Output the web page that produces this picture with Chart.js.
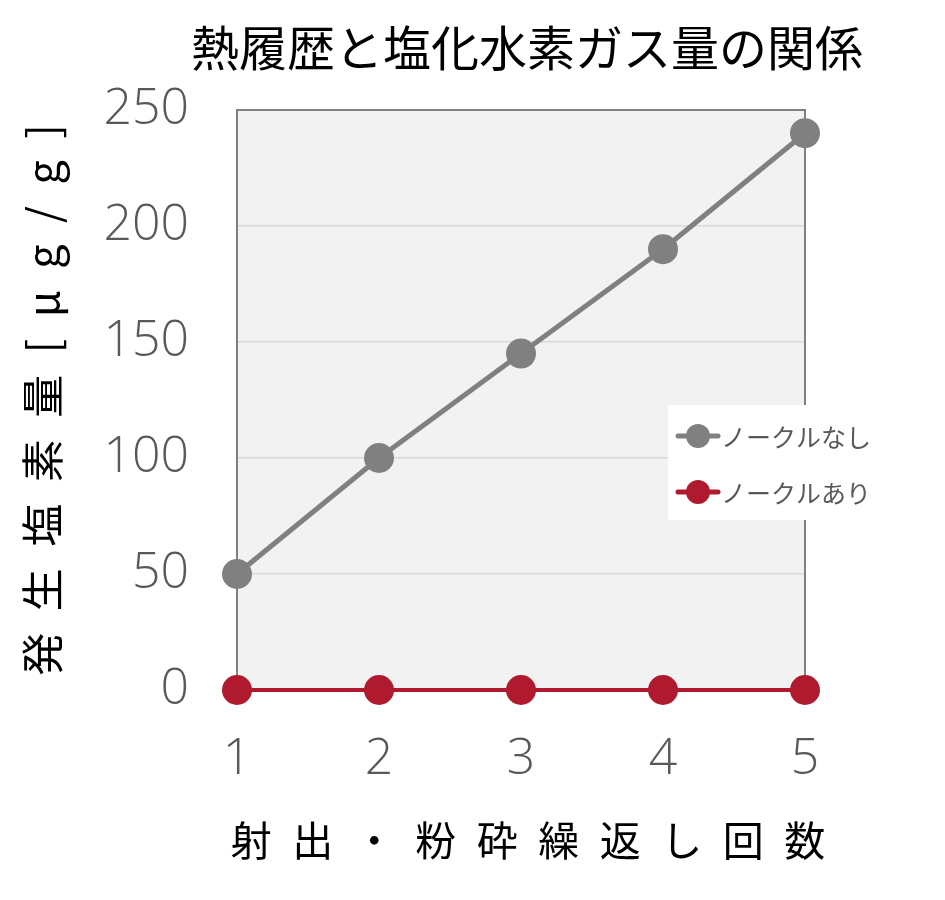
<!DOCTYPE html>
<html>
<head>
<meta charset="utf-8">
<script src="https://cdn.jsdelivr.net/npm/chart.js@4.4.1/dist/chart.umd.min.js"></script>
<style>
  html, body { margin: 0; padding: 0; background: #ffffff; }
  #wrap { width: 945px; height: 900px; }
</style>
</head>
<body>
<div id="wrap"><canvas id="grafico" width="945" height="900"></canvas></div>
<script>
// datos del grafico
var cycles = ['1', '2', '3', '4', '5'];
var seriesNames = ['ノークルなし', 'ノークルあり'];
var withoutNozzle = [50, 100, 145, 190, 240];
var withNozzle = [0, 0, 0, 0, 0];
var yTicks = [0, 50, 100, 150, 200, 250];

var chartTitle = '熱履歴と塩化水素ガス量の関係';
var xTitle = '射\u2002出\u2002・\u2002粉\u2002砕\u2002繰\u2002返\u2002し\u2002回\u2002数';
var yTitle = '発\u2002生\u2002塩\u2002素\u2002量\u2002[\u2002μ\u2002g\u2002/\u2002g\u2002]';

var jpFont = '"Noto Sans CJK JP", "Noto Sans", sans-serif';
var numFont = '"Open Sans", "Noto Sans", sans-serif';

// fondo gris y marco del area de trazado
var plotFrame = {
    id: 'plotFrame',
    beforeDraw: function (chart) {
        var a = chart.chartArea;
        var ctx = chart.ctx;
        ctx.save();
        ctx.fillStyle = '#f2f2f2';
        ctx.fillRect(a.left, a.top, a.right - a.left, a.bottom - a.top);
        ctx.restore();
    },
    beforeDatasetsDraw: function (chart) {
        var a = chart.chartArea;
        var ctx = chart.ctx;
        ctx.save();
        ctx.strokeStyle = '#808080';
        ctx.lineWidth = 2;
        ctx.strokeRect(a.left, a.top, a.right - a.left, a.bottom - a.top);
        ctx.restore();
    }
};

// titulos: el de Chart.js comprime el texto al ancho del area, se pintan aqui
var titles = {
    id: 'titles',
    afterDraw: function (chart) {
        var ctx = chart.ctx;
        ctx.save();
        ctx.fillStyle = '#000000';
        ctx.textAlign = 'center';
        ctx.textBaseline = 'middle';
        ctx.font = '48px ' + jpFont;
        ctx.fillText(chartTitle, 527, 48);
        ctx.font = '41px ' + jpFont;
        ctx.fillText(xTitle, 528, 840);
        ctx.restore();
    }
};

// leyenda dentro del grafico, con fondo blanco
var boxLegend = {
    id: 'boxLegend',
    afterDraw: function (chart) {
        var ctx = chart.ctx;
        var x0 = 668, y0 = 405, w = 200, h = 115;
        ctx.save();
        ctx.fillStyle = '#ffffff';
        ctx.fillRect(x0, y0, w, h);
        chart.data.datasets.forEach(function (ds, i) {
            var cy = 436 + i * 56;
            ctx.strokeStyle = ds.borderColor;
            ctx.lineWidth = 5;
            ctx.lineCap = 'round';
            ctx.beginPath();
            ctx.moveTo(678, cy);
            ctx.lineTo(718, cy);
            ctx.stroke();
            ctx.fillStyle = ds.pointBackgroundColor;
            ctx.beginPath();
            ctx.arc(698, cy, 12, 0, Math.PI * 2);
            ctx.fill();
            ctx.fillStyle = '#595959';
            ctx.font = '25px ' + jpFont;
            ctx.textBaseline = 'middle';
            ctx.textAlign = 'left';
            ctx.fillText(ds.label, 721, cy + 1);
        });
        ctx.restore();
    }
};

var ctx = document.getElementById('grafico').getContext('2d');
var grafico = new Chart(ctx, {
    type: 'line',
    data: {
        labels: cycles,
        datasets: [{
            label: seriesNames[0],
            data: withoutNozzle,
            borderColor: '#808080',
            backgroundColor: '#808080',
            pointBackgroundColor: '#808080',
            pointBorderWidth: 0,
            pointRadius: 15,
            borderWidth: 5,
            clip: false
        }, {
            label: seriesNames[1],
            data: withNozzle,
            borderColor: '#b01a2f',
            backgroundColor: '#b01a2f',
            pointBackgroundColor: '#b01a2f',
            pointBorderWidth: 0,
            pointRadius: 15,
            borderWidth: 4,
            clip: false
        }]
    },
    options: {
        responsive: false,
        animation: false,
        devicePixelRatio: 1,
        layout: { padding: { left: 0, right: 140, top: 110, bottom: 0 } },
        plugins: {
            legend: { display: false },
            tooltip: { enabled: false },
            title: { display: false }
        },
        scales: {
            x: {
                offset: false,
                grid: { display: false, drawTicks: false },
                border: { display: false },
                ticks: {
                    color: '#595959',
                    padding: 40,
                    font: { family: numFont, size: 50, weight: 300 }
                },
                title: { display: false },
                afterFit: function (scale) { scale.height = 210; }
            },
            y: {
                min: 0,
                max: 250,
                afterBuildTicks: function (scale) {
                    scale.ticks = yTicks.map(function (v) { return { value: v }; });
                },
                grid: { color: '#d9d9d9', lineWidth: 1.5, drawTicks: false },
                border: { display: false },
                ticks: {
                    color: '#595959',
                    padding: 48,
                    font: { family: numFont, size: 50, weight: 300 }
                },
                title: {
                    display: true,
                    text: yTitle,
                    color: '#000000',
                    font: { family: jpFont, size: 43, lineHeight: 1.2 },
                    padding: { top: 17, bottom: 0 }
                },
                afterFit: function (scale) { scale.width = 237; }
            }
        }
    },
    plugins: [plotFrame, titles, boxLegend]
});
</script>
</body>
</html>
